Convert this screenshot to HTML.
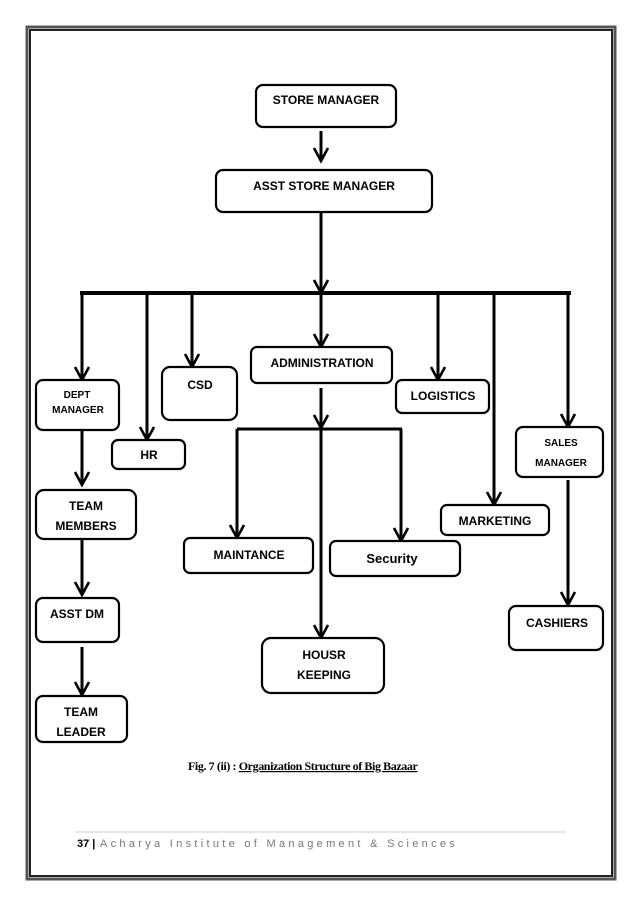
<!DOCTYPE html>
<html><head><meta charset="utf-8"><style>
html,body{margin:0;padding:0;background:#fff;}
svg{display:block;}
.b{fill:#fff;stroke:#000;stroke-width:2.2;}
.t{font-family:"Liberation Sans",sans-serif;font-weight:bold;font-size:12px;fill:#000;text-anchor:middle;}
.s{font-size:10px;}
.l{stroke:#000;stroke-width:3;fill:none;}
.h{stroke:#000;stroke-width:2.6;fill:none;stroke-linejoin:miter;}
</style></head><body>
<svg width="638" height="903" viewBox="0 0 638 903" xmlns="http://www.w3.org/2000/svg">
<rect x="27" y="27" width="588" height="852" fill="none" stroke="#555" stroke-width="3"/>
<rect x="30" y="30" width="582" height="846" fill="none" stroke="#222" stroke-width="2"/>

<!-- connectors -->
<g class="l">
<line x1="321" y1="131" x2="321" y2="160"/>
<line x1="321" y1="212" x2="321" y2="292"/>
<line x1="80" y1="293" x2="571" y2="293" stroke-width="4"/>
<line x1="82" y1="293" x2="82" y2="378"/>
<line x1="147" y1="293" x2="147" y2="438"/>
<line x1="192" y1="293" x2="192" y2="365"/>
<line x1="321" y1="293" x2="321" y2="345"/>
<line x1="438" y1="293" x2="438" y2="378"/>
<line x1="494" y1="293" x2="494" y2="503"/>
<line x1="568" y1="293" x2="568" y2="425"/>
<line x1="321" y1="388" x2="321" y2="428"/>
<line x1="237" y1="429" x2="402" y2="429"/>
<line x1="237" y1="429" x2="237" y2="536"/>
<line x1="401" y1="429" x2="401" y2="539"/>
<line x1="321" y1="429" x2="321" y2="636"/>
<line x1="82" y1="431" x2="82" y2="483"/>
<line x1="82" y1="540" x2="82" y2="593"/>
<line x1="82" y1="647" x2="82" y2="693"/>
<line x1="568" y1="480" x2="568" y2="603"/>
</g>
<g class="h">
<polyline points="314,148 321,161 328,148"/>
<polyline points="314,280 321,293 328,280"/>
<polyline points="75,367 82,380 89,367"/>
<polyline points="140,427 147,440 154,427"/>
<polyline points="185,354 192,367 199,354"/>
<polyline points="314,334 321,347 328,334"/>
<polyline points="431,367 438,380 445,367"/>
<polyline points="487,492 494,505 501,492"/>
<polyline points="561,414 568,427 575,414"/>
<polyline points="314,415 321,428 328,415"/>
<polyline points="230,525 237,538 244,525"/>
<polyline points="394,528 401,541 408,528"/>
<polyline points="314,625 321,638 328,625"/>
<polyline points="75,472 82,485 89,472"/>
<polyline points="75,582 82,595 89,582"/>
<polyline points="75,682 82,695 89,682"/>
<polyline points="561,592 568,605 575,592"/>
</g>

<!-- boxes -->
<rect class="b" x="256" y="85" width="140" height="42" rx="7"/>
<text class="t" x="326" y="104">STORE MANAGER</text>
<rect class="b" x="216" y="170" width="216" height="42" rx="7"/>
<text class="t" x="324" y="190">ASST STORE MANAGER</text>

<rect class="b" x="36" y="380" width="83" height="50" rx="7"/>
<text class="t s" x="77" y="398">DEPT</text>
<text class="t s" x="78" y="413">MANAGER</text>
<rect class="b" x="112" y="440" width="73" height="29" rx="6"/>
<text class="t" x="149" y="459">HR</text>
<rect class="b" x="162" y="367" width="75" height="53" rx="8"/>
<text class="t" x="200" y="389">CSD</text>
<rect class="b" x="251" y="347" width="141" height="36" rx="6"/>
<text class="t" x="322" y="367">ADMINISTRATION</text>
<rect class="b" x="396" y="380" width="93" height="33" rx="6"/>
<text class="t" x="443" y="400">LOGISTICS</text>
<rect class="b" x="516" y="427" width="87" height="50" rx="7"/>
<text class="t s" x="561" y="446">SALES</text>
<text class="t s" x="561" y="466">MANAGER</text>
<rect class="b" x="441" y="505" width="108" height="30" rx="6"/>
<text class="t" x="495" y="525">MARKETING</text>
<rect class="b" x="184" y="538" width="129" height="35" rx="6"/>
<text class="t" x="249" y="559">MAINTANCE</text>
<rect class="b" x="330" y="541" width="130" height="35" rx="6"/>
<text class="t" x="392" y="563" style="font-size:13px">Security</text>
<rect class="b" x="36" y="490" width="100" height="49" rx="8"/>
<text class="t" x="86" y="510">TEAM</text>
<text class="t" x="86" y="530">MEMBERS</text>
<rect class="b" x="36" y="598" width="83" height="44" rx="7"/>
<text class="t" x="77" y="618">ASST DM</text>
<rect class="b" x="36" y="696" width="91" height="46" rx="7"/>
<text class="t" x="81" y="716">TEAM</text>
<text class="t" x="81" y="736">LEADER</text>
<rect class="b" x="262" y="638" width="122" height="55" rx="9"/>
<text class="t" x="324" y="659">HOUSR</text>
<text class="t" x="324" y="679">KEEPING</text>
<rect class="b" x="509" y="606" width="94" height="44" rx="7"/>
<text class="t" x="557" y="627">CASHIERS</text>

<text x="188" y="770" style="font-family:'Liberation Serif',serif;font-weight:bold;font-size:12px;letter-spacing:-0.4px">Fig. 7 (ii) : <tspan text-decoration="underline">Organization  Structure  of Big Bazaar</tspan></text>

<line x1="75" y1="832" x2="566" y2="832" stroke="#ccc" stroke-width="1"/>
<text x="77" y="847" style="font-family:'Liberation Sans',sans-serif;font-size:11px;fill:#000;font-weight:bold">37 |</text>
<text x="100" y="847" style="font-family:'Liberation Sans',sans-serif;font-size:11px;fill:#777;letter-spacing:3.3px">Acharya Institute of Management &amp; Sciences</text>
</svg>
</body></html>
